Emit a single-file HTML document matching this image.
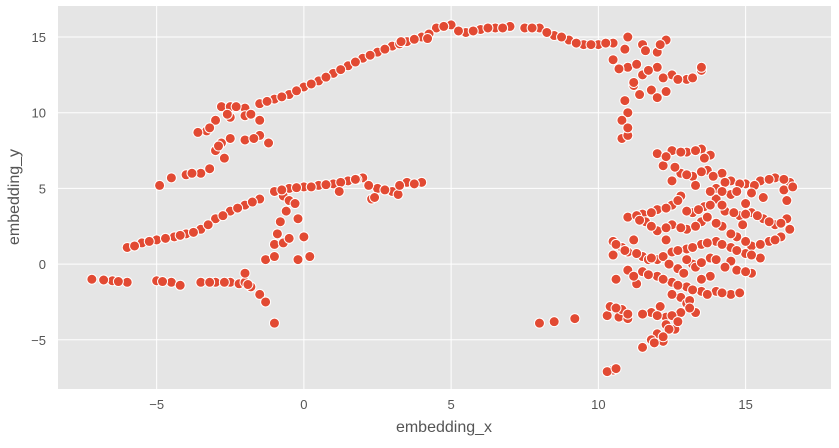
<!DOCTYPE html>
<html><head><meta charset="utf-8"><style>
html,body{margin:0;padding:0;background:#fff;}
svg text{font-family:"Liberation Sans",sans-serif;}
</style></head><body>
<svg id="chart" width="839" height="443" xmlns="http://www.w3.org/2000/svg">
<rect x="58" y="6" width="773" height="383" fill="#E5E5E5"/>
<g id="grid"></g><g id="pts"></g><g id="ticks"></g>
<text x="444" y="432" text-anchor="middle" font-size="16" fill="#555">embedding_x</text>
<text x="19" y="197" text-anchor="middle" font-size="16" fill="#555" transform="rotate(-90 19 197)">embedding_y</text>
</svg>
<script>
const xTicks=[-5,0,5,10,15];
const yTicks=[-5,0,5,10,15];
const xTickLabels=["−5","0","5","10","15"];
const yTickLabels=["−5","0","5","10","15"];
const ptsX=[
-1.5,-1,-0.5,0,0.5,1,1.5,2,2.5,3,3.5,4,4.5,5,5.5,6,6.5,7,7.5,8,8.5,9,9.5,10,10.5,
-3.3,-3,-2.8,-2.5,-2,-2.5,-2,-1.5,-2.8,-2.5,-2,-1.5,-1.2,-3,-2.7,-3.5,-4,-4.5,-3.2,-4.9,
-1,-0.5,0,0.5,1,1.5,2,2.5,3,3.5,4,-0.7,2.3,1.8,3.2,-0.5,-0.6,-0.8,-0.9,-1,-0.3,-0.2,0,
-6,-5.5,-5,-4.4,-4,-3.5,-3,-2.5,-2,-1.5,-1.3,-1,-0.7,-0.5,0,-0.2,0.2,
-7.2,-6.5,-6,-5,-4.5,-4.2,-3.5,-3,-2.5,-2.2,-2,-1.8,-1.5,-1.3,-2,-1,
8,8.5,9.2,10.3,10.7,10.5,10.3,
10.5,11,11.5,11,11.5,12,12.3,12,12.5,13,13.5,13.5,11.8,12,11.2,11,10.8,10.8,11,11.2,
12,12.5,13,13.5,13.8,12.2,12.8,13.2,13.7,14.2,14.5,15,15.5,16,16.5,16.3,14,14.5,13.3,
11,11.5,12,12.5,12.8,13.2,13.6,14,14.3,14.8,15.2,15.6,16,16.4,16.2,15.8,15.2,14.7,14.2,13.5,13,12.5,12,11.6,13.8,15,15.6,16.4,
10.5,10.8,11,11.5,12,12.5,13,13.5,14,14.5,15,15.5,11.2,12.3,13.2,13.8,14.5,15.2,14.7,10.5,11.7,
11.5,12,12.5,13,13.5,14,14.5,13.8,12.7,11,10.6,11.3,12.8,13.3,
10.4,10.8,11,11.8,12.3,12.8,12.3,12,11.8,11.5,12.2,12.6,13,13.3,12.1];
const ptsY=[
10.6,10.9,11.2,11.7,12.1,12.6,13.1,13.6,14,14.4,14.7,15,15.6,15.8,15.3,15.5,15.6,15.7,15.6,15.6,15.1,14.8,14.5,14.5,14.6,
8.8,9.5,10.4,10.4,10.3,9.7,9.8,9.5,8,8.3,8.2,8.5,8,7.5,7,6,5.9,5.7,6.3,5.2,
4.8,5,5.1,5.2,5.3,5.5,5.7,5,4.8,5.4,5.4,4.5,4.3,5.6,4.6,4.2,3.5,2.8,2,1.3,4,3,1.8,
1.1,1.4,1.6,1.8,2,2.3,3,3.5,3.9,4.3,0.3,0.5,1.4,1.7,1.8,0.3,0.5,
-1,-1.1,-1.2,-1.1,-1.2,-1.4,-1.2,-1.2,-1.2,-1.3,-1.2,-1.5,-2,-2.5,-0.6,-3.9,
-3.9,-3.8,-3.6,-3.4,-3.5,-7,-7.1,
13.5,13,12.5,15,14.5,14,14.8,13,12.5,12.2,12.8,13,11.5,11,11.8,10,9.5,8.3,8.5,12,
7.3,7.5,7.4,7.6,7.2,6.5,6,5.8,6.2,6,5.5,5.3,5.5,5.7,5.4,4.9,5,4.6,5.2,
3.1,3.3,3.6,3.9,4.5,3.4,3.8,4.3,3.5,3.2,3.4,3,2.6,3,1.8,1.5,1.2,1.8,2.5,2.8,2.3,2.6,2.2,2.8,4.8,4,4.4,4.2,
1.5,1.1,0.8,0.5,0.3,0.8,1,1.3,1.5,1.1,0.7,0.4,1.6,1.6,0,0.4,0.2,-0.6,-0.4,0.6,0.3,
-0.5,-0.8,-1.2,-1.5,-1.8,-1.8,-2,-0.8,-0.3,-0.4,-1,-1.3,-2.2,-0.2,
-2.8,-3,-3.6,-3.2,-3.5,-3.2,-4,-4.6,-5,-5.5,-5.1,-4.3,-2.6,-3.2,-2.8];
const ptsX2=[
-1.25,-0.75,-0.25,0.25,0.75,1.25,1.75,2.25,2.75,3.25,3.75,4.25,4.75,5.25,5.75,6.25,6.75,7.75,8.25,8.75,9.25,9.75,10.25,3.3,4.2,
-0.75,-0.25,0.25,0.75,1.25,1.75,2.2,2.75,3.25,3.75,2.4,1.2,
-5.75,-5.25,-4.7,-4.2,-3.75,-3.25,-2.75,-2.25,-1.75,
-6.8,-6.3,-4.8,-3.2,-2.7,-1.9,
-3.2,-2.6,-1.8,-2.3,-1.7,-3.6,-2.9,-3.8,
11.3,11.7,12.2,11.6,12.1,10.9,12.7,13.2,11.4,12.3,10.9,11,10.7,
12.3,12.8,13.3,13.6,12.6,13,13.5,13.9,14.3,14.8,15.3,15.8,16.3,16.6,14.2,14.7,15.2,12.5,
11.3,11.8,12.3,12.7,13,13.4,13.8,14.2,14.6,15,15.4,15.8,16.2,16.5,16,15.5,15,14.5,14,13.3,12.8,12.3,11.8,11.4,13.7,14.9,
10.6,10.9,11.3,11.8,12.2,12.7,13.2,13.7,14.2,14.7,15.2,13,13.5,14,14.3,15,12.4,
11.7,12.2,12.7,13.2,13.7,14.2,14.8,13.5,12.9,11.2,12.5,13.1,
10.6,11,11.5,12,12.5,12.4,12.2,11.9,12.7,13.1,10.6];
const ptsY2=[
10.75,11.05,11.45,11.9,12.35,12.85,13.35,13.8,14.2,14.55,14.85,15.2,15.7,15.4,15.4,15.6,15.6,15.6,15.3,15,14.6,14.5,14.6,14.7,14.9,
4.9,5.05,5.1,5.25,5.4,5.6,5.2,4.9,5.2,5.3,4.4,4.8,
1.2,1.5,1.7,1.9,2.1,2.6,3.2,3.7,4.1,
-1.05,-1.15,-1.15,-1.2,-1.2,-1.35,
9,9.9,9.9,10.4,8.3,8.7,7.8,6,
13.2,12.8,12.3,14.1,14.5,14.2,12.2,12.3,11.2,11.4,10.8,9,12.9,
7.1,7.4,7.5,7,6.4,5.9,6.1,5.8,5.4,5.3,5.2,5.6,5.6,5.1,4.8,4.8,4.7,5.5,
3.2,3.4,3.7,4.2,3.5,3.6,3.9,3.9,3.4,3.3,3.2,2.8,2.7,2.3,1.6,1.3,1.5,2,2.7,2.5,2.4,2.4,2.5,2.9,3.1,2.6,
1.3,0.9,0.7,0.4,0.5,0.9,1.1,1.4,1.3,0.9,0.6,0.3,0.1,0.3,-0.2,-0.5,0,
-0.7,-1,-1.4,-1.7,-2,-1.9,-1.9,-1,-0.6,-0.8,-2,-2.4,
-2.9,-3.3,-3.3,-3.4,-3.4,-4.3,-4.8,-5.2,-3.8,-2.9,-6.9];
const X0=58,X1=831,XMIN=-8.35,XMAX=17.9,Y0=6,Y1=389,YMIN=-8.25,YMAX=17.05;
const sx=v=>X0+(v-XMIN)/(XMAX-XMIN)*(X1-X0);
const sy=v=>Y1-(v-YMIN)/(YMAX-YMIN)*(Y1-Y0);
const NS="http://www.w3.org/2000/svg";
const grid=document.getElementById('grid'),tk=document.getElementById('ticks'),pg=document.getElementById('pts');
xTicks.forEach((t,i)=>{
 const l=document.createElementNS(NS,'line');
 l.setAttribute('x1',sx(t));l.setAttribute('x2',sx(t));l.setAttribute('y1',Y0);l.setAttribute('y2',Y1);
 l.setAttribute('stroke','#fff');l.setAttribute('stroke-width','1');
 
 
 grid.appendChild(l);
 const s=document.createElementNS(NS,'text');
 s.setAttribute('x',sx(t));s.setAttribute('y',409);s.setAttribute('text-anchor','middle');
 s.setAttribute('font-size','13');s.setAttribute('fill','#555');s.textContent=xTickLabels[i];
 
 
 tk.appendChild(s);
});
yTicks.forEach((t,i)=>{
 const l=document.createElementNS(NS,'line');
 l.setAttribute('x1',X0);l.setAttribute('x2',X1);l.setAttribute('y1',sy(t));l.setAttribute('y2',sy(t));
 l.setAttribute('stroke','#fff');l.setAttribute('stroke-width','1');
 
 
 grid.appendChild(l);
 const s=document.createElementNS(NS,'text');
 s.setAttribute('x',46);s.setAttribute('y',sy(t)+5);s.setAttribute('text-anchor','end');
 s.setAttribute('font-size','13');s.setAttribute('fill','#555');s.textContent=yTickLabels[i];
 
 
 tk.appendChild(s);
});
const allX=ptsX.concat(ptsX2), allY=ptsY.concat(ptsY2);
allX.forEach((x,i)=>{
 const c=document.createElementNS(NS,'circle');
 c.setAttribute('cx',sx(x));c.setAttribute('cy',sy(allY[i]));c.setAttribute('r','5');
 c.setAttribute('fill','#E24A33');c.setAttribute('stroke','#fff');c.setAttribute('stroke-width','1');
 
 
 pg.appendChild(c);
});
</script>
</body></html>
